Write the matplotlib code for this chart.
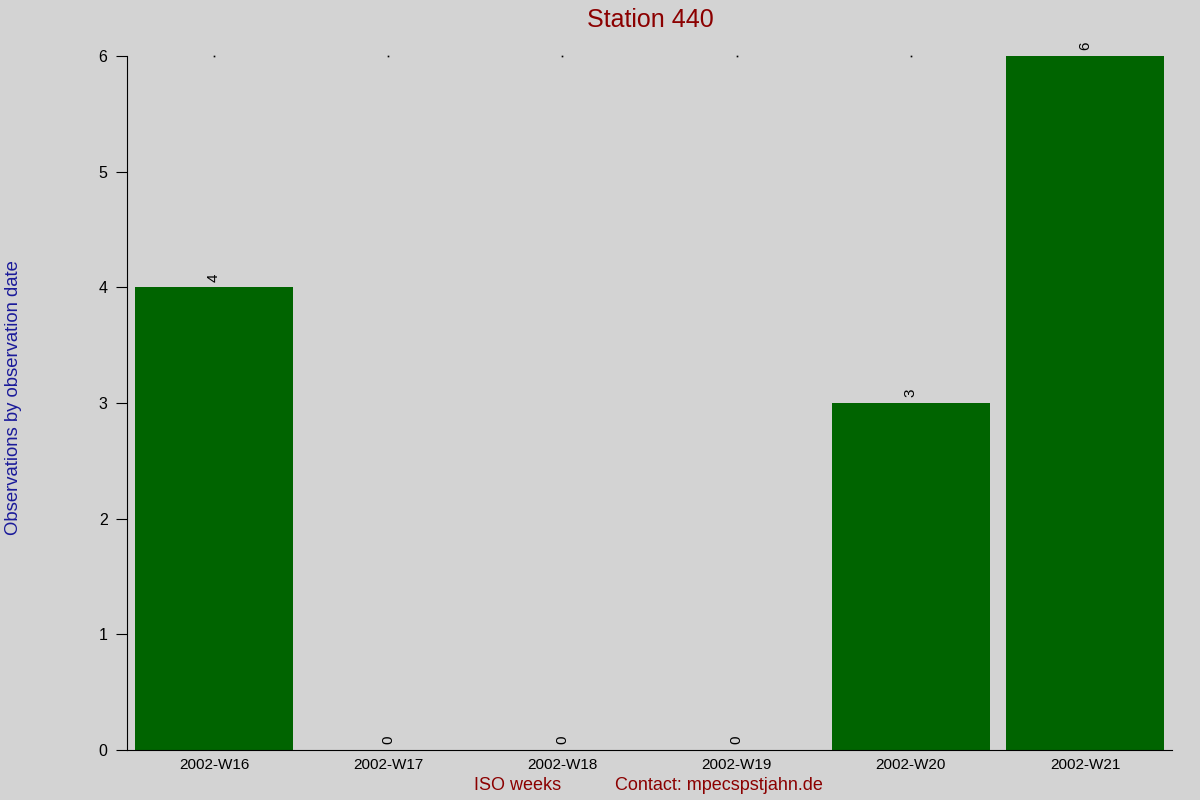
import numpy as np
import matplotlib.pyplot as plt

weeks = ["2002-W16", "2002-W17", "2002-W18", "2002-W19", "2002-W20", "2002-W21"]
counts = [4, 0, 0, 0, 3, 6]
station = "Station 440"

plt.rcParams['font.family'] = ['Liberation Sans', 'DejaVu Sans']

bg = '#d3d3d3'
fig = plt.figure(figsize=(12, 8), dpi=100, facecolor=bg)
ax = fig.add_axes([0.1058, 0.0625, 0.8709, 0.8675], facecolor=bg)

x = np.arange(len(weeks))
ax.bar(x, counts, width=0.905, color='#006400')
ymax = 6
# tiny dots along the top where no bar reaches it
top_x = [xi for xi, c in zip(x, counts) if c < ymax]
ax.plot(top_x, [ymax] * len(top_x), linestyle='none', marker='s', markersize=1.2,
        markeredgewidth=0, color='black', zorder=0, clip_on=False)

for xi, c in zip(x, counts):
    ax.text(xi, c + 0.05, str(c), rotation=90, ha='center', va='bottom', fontsize=11)

ax.set_xlim(-0.5, len(weeks) - 0.5)
ax.set_ylim(0, ymax)
ax.set_xticks(x)
ax.set_xticklabels(weeks, fontsize=11)
ax.set_yticks(range(0, ymax + 1))
ax.tick_params(axis='y', direction='out', length=8, labelsize=11.5, pad=6)
ax.tick_params(axis='x', length=0, labelsize=11, pad=6)
for s in ['top', 'right']:
    ax.spines[s].set_visible(False)

fig.text(0.5417, 0.975, station, ha='center', va='center', fontsize=18, color='#8b0000')
fig.text(0.004, 0.503, "Observations by observation date", rotation=90, ha='left', va='center',
         fontsize=13.3, color='#1a1a9a')
fig.text(0.4317, 0.0175, "ISO weeks", ha='center', va='center', fontsize=13, color='#8b0000')
fig.text(0.5992, 0.0175, "Contact: mpecspstjahn.de", ha='center', va='center', fontsize=13, color='#8b0000')

fig.savefig('out.png', dpi=100, facecolor=bg)
